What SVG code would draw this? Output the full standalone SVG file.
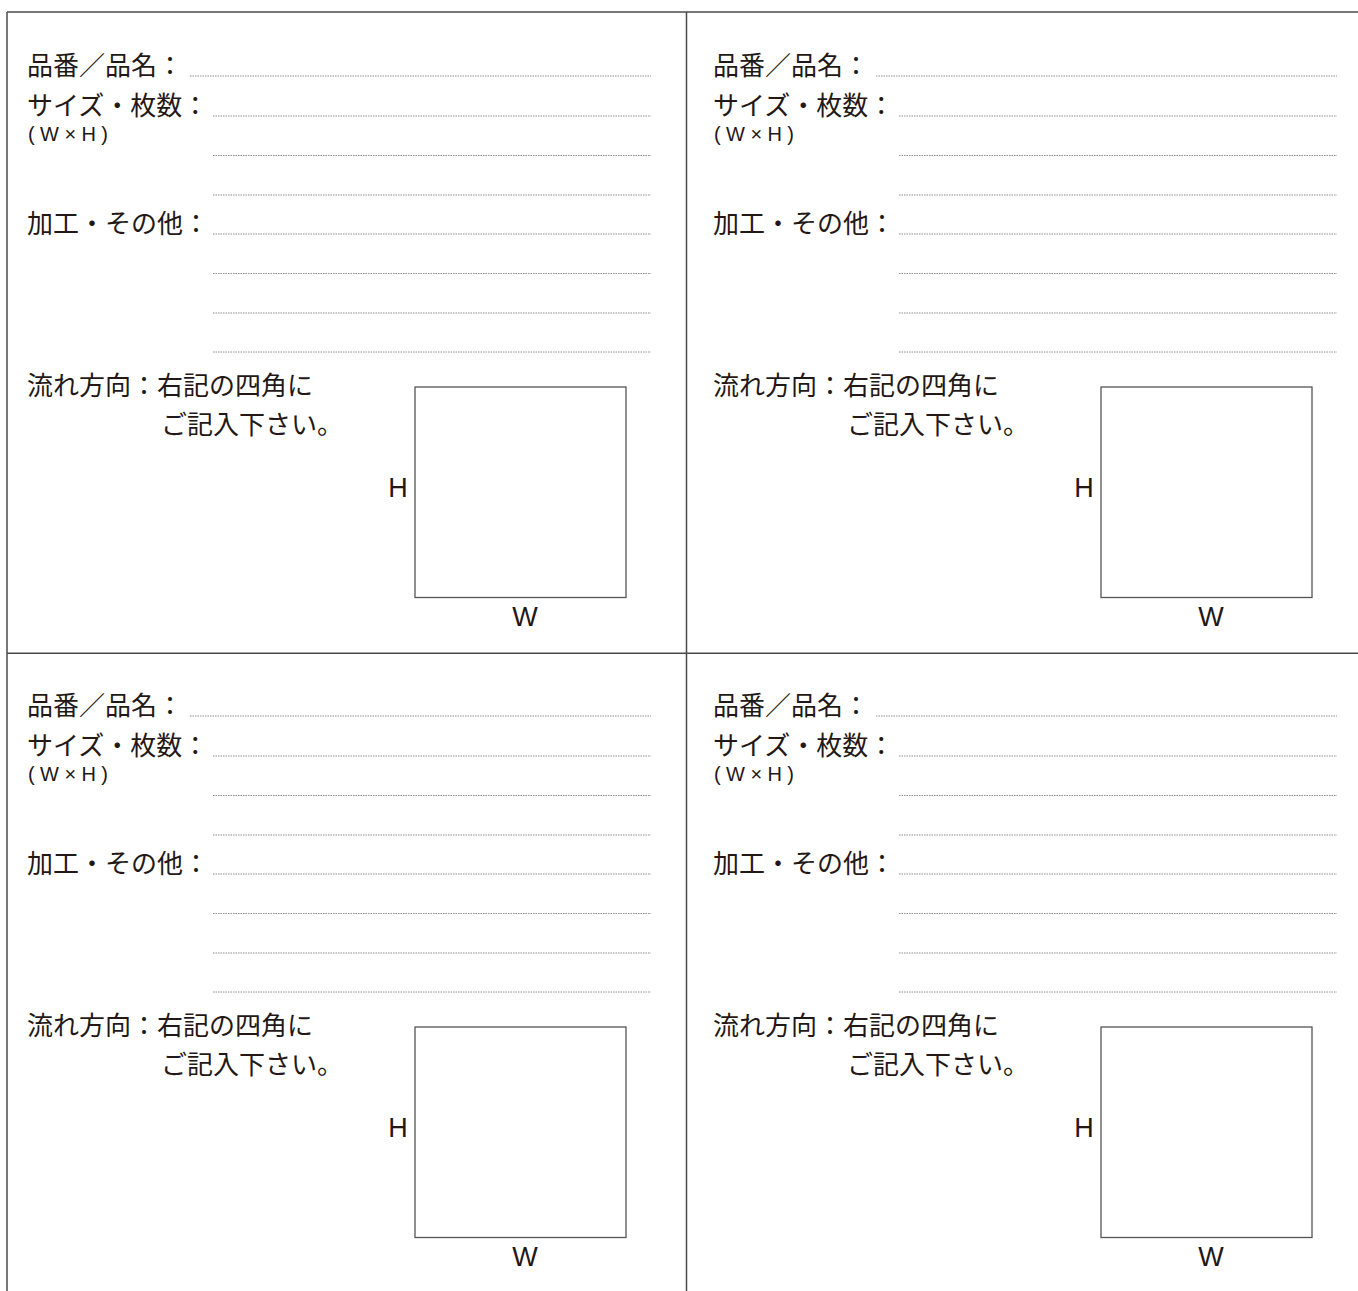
<svg xmlns="http://www.w3.org/2000/svg" width="1358" height="1291" viewBox="0 0 1358 1291">
<style>
.t{font-family:"Noto Sans CJK JP","Noto Sans CJK SC",sans-serif;font-size:26px;fill:#231815}
.s{font-family:"Liberation Sans","Noto Sans CJK JP",sans-serif;font-size:20px;fill:#231815}
.l{font-family:"Liberation Sans","Noto Sans CJK JP",sans-serif;font-size:27px;fill:#231815;text-anchor:middle}
.d{stroke:#8c8c8c;stroke-width:1;stroke-dasharray:1.5 1;fill:none}
.b{stroke:#555;stroke-width:1.3;fill:none}
.f{stroke:#4a4a4a;stroke-width:1.5;fill:none}
</style>
<rect width="1358" height="1291" fill="#fff"/>
<g id="frame">
<line class="f" x1="7" y1="12" x2="1358" y2="12"/>
<line class="f" x1="7" y1="12" x2="7" y2="1291"/>
<line class="f" x1="686.5" y1="12" x2="686.5" y2="1291"/>
<line class="f" x1="7" y1="653.3" x2="1358" y2="653.3"/>
</g>
<g id="panel-tl">
<text class="t" x="27" y="75">品番／品名：</text>
<text class="t" x="27" y="115">サイズ・枚数：</text>
<text class="s" x="28" y="140.5" textLength="80" lengthAdjust="spacing">(W×H)</text>
<text class="t" x="27" y="233">加工・その他：</text>
<text class="t" x="27" y="395">流れ方向：右記の四角に</text>
<text class="t" x="161" y="434">ご記入下さい。</text>
<line class="d" x1="190" y1="76" x2="651" y2="76"/>
<line class="d" x1="213" y1="116" x2="651" y2="116"/>
<line class="d" x1="213" y1="155.5" x2="651" y2="155.5"/>
<line class="d" x1="213" y1="195" x2="651" y2="195"/>
<line class="d" x1="213" y1="234" x2="651" y2="234"/>
<line class="d" x1="213" y1="273.5" x2="651" y2="273.5"/>
<line class="d" x1="213" y1="313" x2="651" y2="313"/>
<line class="d" x1="213" y1="352" x2="651" y2="352"/>
<rect class="b" x="415" y="387" width="211" height="210.5"/>
<text class="l" x="398" y="497">H</text>
<text class="l" x="525" y="626">W</text>
</g>
<g id="panel-tr" transform="translate(686,0)">
<text class="t" x="27" y="75">品番／品名：</text>
<text class="t" x="27" y="115">サイズ・枚数：</text>
<text class="s" x="28" y="140.5" textLength="80" lengthAdjust="spacing">(W×H)</text>
<text class="t" x="27" y="233">加工・その他：</text>
<text class="t" x="27" y="395">流れ方向：右記の四角に</text>
<text class="t" x="161" y="434">ご記入下さい。</text>
<line class="d" x1="190" y1="76" x2="651" y2="76"/>
<line class="d" x1="213" y1="116" x2="651" y2="116"/>
<line class="d" x1="213" y1="155.5" x2="651" y2="155.5"/>
<line class="d" x1="213" y1="195" x2="651" y2="195"/>
<line class="d" x1="213" y1="234" x2="651" y2="234"/>
<line class="d" x1="213" y1="273.5" x2="651" y2="273.5"/>
<line class="d" x1="213" y1="313" x2="651" y2="313"/>
<line class="d" x1="213" y1="352" x2="651" y2="352"/>
<rect class="b" x="415" y="387" width="211" height="210.5"/>
<text class="l" x="398" y="497">H</text>
<text class="l" x="525" y="626">W</text>
</g>
<g id="panel-bl" transform="translate(0,640)">
<text class="t" x="27" y="75">品番／品名：</text>
<text class="t" x="27" y="115">サイズ・枚数：</text>
<text class="s" x="28" y="140.5" textLength="80" lengthAdjust="spacing">(W×H)</text>
<text class="t" x="27" y="233">加工・その他：</text>
<text class="t" x="27" y="395">流れ方向：右記の四角に</text>
<text class="t" x="161" y="434">ご記入下さい。</text>
<line class="d" x1="190" y1="76" x2="651" y2="76"/>
<line class="d" x1="213" y1="116" x2="651" y2="116"/>
<line class="d" x1="213" y1="155.5" x2="651" y2="155.5"/>
<line class="d" x1="213" y1="195" x2="651" y2="195"/>
<line class="d" x1="213" y1="234" x2="651" y2="234"/>
<line class="d" x1="213" y1="273.5" x2="651" y2="273.5"/>
<line class="d" x1="213" y1="313" x2="651" y2="313"/>
<line class="d" x1="213" y1="352" x2="651" y2="352"/>
<rect class="b" x="415" y="387" width="211" height="210.5"/>
<text class="l" x="398" y="497">H</text>
<text class="l" x="525" y="626">W</text>
</g>
<g id="panel-br" transform="translate(686,640)">
<text class="t" x="27" y="75">品番／品名：</text>
<text class="t" x="27" y="115">サイズ・枚数：</text>
<text class="s" x="28" y="140.5" textLength="80" lengthAdjust="spacing">(W×H)</text>
<text class="t" x="27" y="233">加工・その他：</text>
<text class="t" x="27" y="395">流れ方向：右記の四角に</text>
<text class="t" x="161" y="434">ご記入下さい。</text>
<line class="d" x1="190" y1="76" x2="651" y2="76"/>
<line class="d" x1="213" y1="116" x2="651" y2="116"/>
<line class="d" x1="213" y1="155.5" x2="651" y2="155.5"/>
<line class="d" x1="213" y1="195" x2="651" y2="195"/>
<line class="d" x1="213" y1="234" x2="651" y2="234"/>
<line class="d" x1="213" y1="273.5" x2="651" y2="273.5"/>
<line class="d" x1="213" y1="313" x2="651" y2="313"/>
<line class="d" x1="213" y1="352" x2="651" y2="352"/>
<rect class="b" x="415" y="387" width="211" height="210.5"/>
<text class="l" x="398" y="497">H</text>
<text class="l" x="525" y="626">W</text>
</g>
</svg>
